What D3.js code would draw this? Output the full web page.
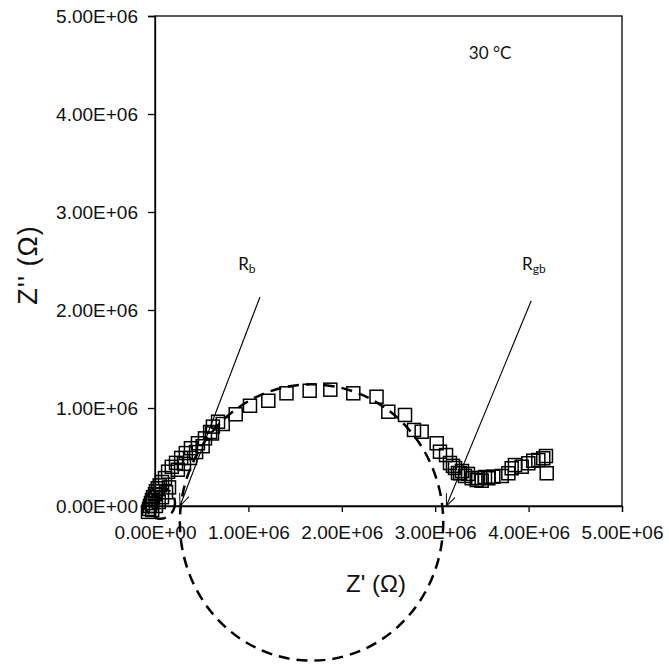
<!DOCTYPE html>
<html>
<head>
<meta charset="utf-8">
<script src="https://cdn.jsdelivr.net/npm/d3@7/dist/d3.min.js"></script>
<style>
  body { margin: 0; background: #fff; }
  svg { display: block; }
</style>
</head>
<body>
<div id="chart"></div>
<script>
// impedance data, Z' and Z'' in ohm
const zReal = [
  -0.075e6, -0.064e6, -0.054e6, -0.043e6, -0.032e6, -0.021e6, 0.0, 0.01e6, 0.03e6, 0.05e6, 0.075e6, 0.107e6,
  -0.03e6, 0.01e6, 0.04e6, 0.075e6, 0.118e6, 0.15e6,
  0.14e6, 0.18e6, 0.225e6, 0.28e6, 0.33e6, 0.385e6, 0.46e6, 0.535e6, 0.59e6, 0.62e6, 0.675e6,
  0.245e6, 0.31e6, 0.375e6, 0.44e6, 0.51e6, 0.61e6,
  0.725e6, 0.864e6, 1.017e6, 1.213e6, 1.408e6, 1.656e6, 1.877e6, 2.123e6, 2.372e6, 2.498e6, 2.677e6,
  2.773e6, 2.855e6, 3.016e6, 3.051e6, 3.116e6, 3.158e6, 3.19e6, 3.212e6, 3.244e6, 3.266e6, 3.287e6,
  3.319e6, 3.351e6, 3.391e6, 3.444e6, 3.459e6, 3.498e6, 3.533e6, 3.569e6, 3.622e6, 3.712e6, 3.783e6,
  3.819e6, 3.854e6, 3.926e6, 3.997e6, 4.05e6, 4.104e6, 4.157e6, 4.186e6, 4.194e6
];
const zImag = [
  -0.06e6, -0.03e6, 0.0, 0.03e6, 0.06e6, 0.09e6, 0.12e6, 0.15e6, 0.18e6, 0.21e6, 0.245e6, 0.285e6,
  -0.04e6, 0.0, 0.04e6, 0.09e6, 0.14e6, 0.19e6,
  0.35e6, 0.40e6, 0.44e6, 0.49e6, 0.54e6, 0.59e6, 0.64e6, 0.69e6, 0.755e6, 0.81e6, 0.86e6,
  0.37e6, 0.43e6, 0.49e6, 0.55e6, 0.61e6, 0.74e6,
  0.837e6, 0.936e6, 1.023e6, 1.074e6, 1.15e6, 1.176e6, 1.187e6, 1.15e6, 1.115e6, 0.962e6, 0.929e6,
  0.776e6, 0.758e6, 0.64e6, 0.554e6, 0.52e6, 0.439e6, 0.41e6, 0.388e6, 0.337e6, 0.334e6, 0.357e6,
  0.306e6, 0.327e6, 0.283e6, 0.265e6, 0.286e6, 0.258e6, 0.296e6, 0.283e6, 0.299e6, 0.306e6, 0.334e6,
  0.385e6, 0.418e6, 0.401e6, 0.436e6, 0.462e6, 0.469e6, 0.487e6, 0.51e6, 0.334e6
];

const xTicks = [0, 1e6, 2e6, 3e6, 4e6, 5e6];
const yTicks = [0, 1e6, 2e6, 3e6, 4e6, 5e6];

// fitted semicircles: [centre Z', centre Z'', radius]
const fitCircles = [
  [1.676e6, -0.168e6, 1.41e6],
  [0.054e6, 0.03e6, 0.16e6]
];

// annotations: label, sub, label pos, arrow start, arrow tip
const notes = [
  { main: "R", sub: "b", at: [0.89e6, 2.41e6], from: [1.124e6, 2.133e6], to: [0.268e6, 0.0] },
  { main: "R", sub: "gb", at: [3.93e6, 2.41e6], from: [4.028e6, 2.094e6], to: [3.12e6, 0.0] }
];
const tempLabel = "30 °C";

const W = 669, H = 664;
const svg = d3.select("#chart").append("svg").attr("width", W).attr("height", H);

const x = d3.scaleLinear().domain([0, 5e6]).range([155, 622]);
const y = d3.scaleLinear().domain([0, 5e6]).range([506, 16]);

function sci(d) {
  if (d === 0) return "0.00E+00";
  const e = Math.floor(Math.log10(Math.abs(d)));
  const m = d / Math.pow(10, e);
  return m.toFixed(2) + "E" + (e < 0 ? "-" : "+") + String(Math.abs(e)).padStart(2, "0");
}

// frame
svg.append("rect")
  .attr("x", x(0)).attr("y", y(5e6))
  .attr("width", x(5e6) - x(0)).attr("height", y(0) - y(5e6))
  .attr("fill", "none").attr("stroke", "#000").attr("stroke-width", 1.3);

const axisFont = "'Liberation Sans', Arial, sans-serif";

const gx = svg.append("g").attr("transform", "translate(0," + y(0) + ")")
  .call(d3.axisBottom(x).tickValues(xTicks).tickFormat(sci).tickSize(6).tickPadding(14));
const gy = svg.append("g").attr("transform", "translate(" + x(0) + ",0)")
  .call(d3.axisLeft(y).tickValues(yTicks).tickFormat(sci).tickSize(7).tickPadding(10));
[gx, gy].forEach(g => {
  g.select(".domain").attr("stroke", "#000").attr("stroke-width", 1.3);
  g.selectAll(".tick line").attr("stroke", "#000").attr("stroke-width", 1.3);
  g.selectAll(".tick text").attr("fill", "#111").style("font-family", axisFont).style("font-size", "19px");
});

// axis titles
svg.append("text").attr("x", 376).attr("y", 592)
  .attr("text-anchor", "middle").style("font-family", axisFont).style("font-size", "24px").attr("fill", "#111")
  .text("Z' (Ω)");
svg.append("text").attr("transform", "translate(37,265) rotate(-90)")
  .attr("text-anchor", "middle").style("font-family", axisFont).style("font-size", "27px")
  .style("letter-spacing", "1px").attr("fill", "#111")
  .text("Z'' (Ω)");

// dashed fitted circles
svg.selectAll("ellipse.fit").data(fitCircles).enter().append("ellipse")
  .attr("class", "fit")
  .attr("cx", d => x(d[0])).attr("cy", d => y(d[1]))
  .attr("rx", d => x(d[0] + d[2]) - x(d[0]))
  .attr("ry", d => y(d[1]) - y(d[1] + d[2]))
  .attr("fill", "none").attr("stroke", "#000").attr("stroke-width", 2.5)
  .attr("stroke-dasharray", "11,7");

// data squares
const pts = zReal.map((v, i) => [v, zImag[i]]);
const s = 13;
svg.append("g").selectAll("rect").data(pts).enter().append("rect")
  .attr("x", d => x(d[0]) - s / 2).attr("y", d => y(d[1]) - s / 2)
  .attr("width", s).attr("height", s)
  .attr("fill", "none").attr("stroke", "#000").attr("stroke-width", 1.5);

// arrows
svg.append("defs").append("marker")
  .attr("id", "arr").attr("viewBox", "0 0 12 10").attr("refX", 12).attr("refY", 5)
  .attr("markerWidth", 12).attr("markerHeight", 10).attr("markerUnits", "userSpaceOnUse")
  .attr("orient", "auto")
  .append("path").attr("d", "M0,0 L12,5 L0,10").attr("fill", "none").attr("stroke", "#000").attr("stroke-width", 1);

svg.selectAll("line.note").data(notes).enter().append("line")
  .attr("class", "note")
  .attr("x1", d => x(d.from[0])).attr("y1", d => y(d.from[1]))
  .attr("x2", d => x(d.to[0])).attr("y2", d => y(d.to[1]))
  .attr("stroke", "#000").attr("stroke-width", 1.1).attr("marker-end", "url(#arr)");

const labelFont = "Lato, 'Open Sans', sans-serif";
const lab = svg.selectAll("text.note").data(notes).enter().append("text")
  .attr("class", "note")
  .attr("x", d => x(d.at[0])).attr("y", d => y(d.at[1]))
  .style("font-family", labelFont).style("font-size", "17px").attr("fill", "#111");
lab.append("tspan").text(d => d.main);
lab.append("tspan").attr("dy", 3).style("font-size", "12px").text(d => d.sub);

svg.append("text").attr("x", x(3.36e6)).attr("y", y(4.56e6))
  .style("font-family", labelFont).style("font-size", "17px").attr("fill", "#111")
  .text(tempLabel);
</script>
</body>
</html>
